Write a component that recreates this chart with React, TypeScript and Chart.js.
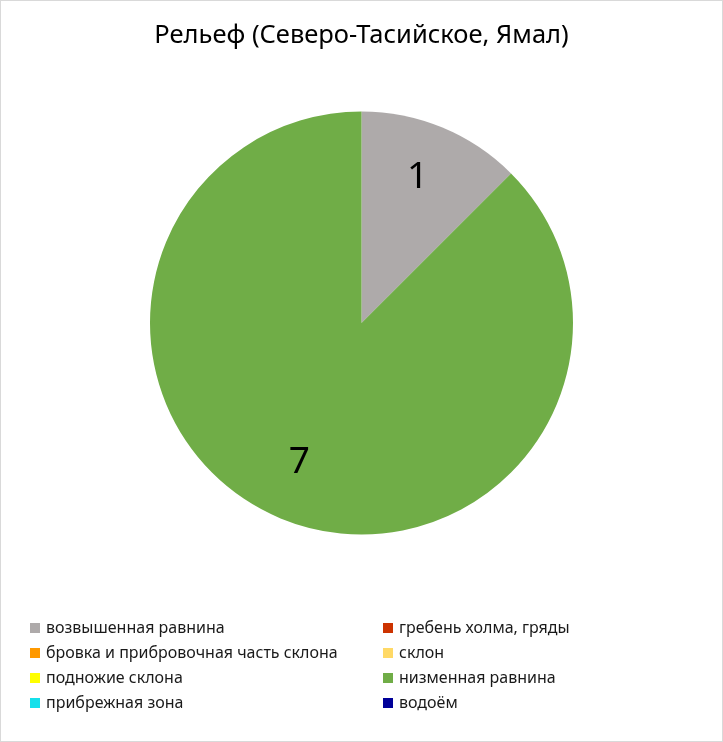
import React, { useEffect, useRef } from "react";
import { Chart, registerables } from "chart.js";

Chart.register(...registerables);

const TITLE = "Рельеф (Северо-Тасийское, Ямал)";
const categories = [
  "возвышенная равнина",
  "гребень холма, гряды",
  "бровка и прибровочная часть склона",
  "склон",
  "подножие склона",
  "низменная равнина",
  "прибрежная зона",
  "водоём",
];
const values = [1, 0, 0, 0, 0, 7, 0, 0];
const colors = [
  "#AEAAAA",
  "#CC3300",
  "#FF9900",
  "#FFD966",
  "#FFFF00",
  "#70AD47",
  "#15E0EB",
  "#000099",
];

const FONT = "'Noto Sans', 'Open Sans', sans-serif";

const labelPlugin = {
  id: "sliceLabels",
  afterDatasetsDraw(chart: any) {
    const ctx = chart.ctx;
    const meta = chart.getDatasetMeta(0);
    ctx.save();
    ctx.fillStyle = "#000";
    ctx.font = `37px ${FONT}`;
    ctx.textAlign = "center";
    ctx.textBaseline = "middle";
    meta.data.forEach((arc: any, i: number) => {
      const v = values[i];
      if (!v) return;
      const p = arc.getProps(["x", "y", "startAngle", "endAngle", "outerRadius"], true);
      const mid = (p.startAngle + p.endAngle) / 2;
      const r = p.outerRadius * 0.73;
      ctx.fillText(String(v), p.x + Math.cos(mid) * r - 3, p.y + Math.sin(mid) * r - 3);
    });
    ctx.restore();
  },
};

const legendPlugin = {
  id: "gridLegend",
  afterDraw(chart: any) {
    const ctx = chart.ctx;
    ctx.save();
    ctx.font = `16px ${FONT}`;
    ctx.textBaseline = "middle";
    ctx.textAlign = "left";
    categories.forEach((c, i) => {
      const col = i % 2;
      const row = Math.floor(i / 2);
      const x = col === 0 ? 30 : 383;
      const y = 628 + row * 25;
      ctx.fillStyle = colors[i];
      ctx.fillRect(x, y - 5, 10, 10);
      ctx.fillStyle = "#1a1a1a";
      ctx.fillText(c, x + 16, y);
    });
    ctx.restore();
  },
};

export default function App() {
  const ref = useRef<HTMLCanvasElement | null>(null);
  useEffect(() => {
    if (!ref.current) return;
    const chart = new Chart(ref.current, {
      type: "pie",
      data: {
        labels: categories,
        datasets: [
          {
            data: values,
            backgroundColor: colors,
            borderWidth: 0,
          },
        ],
      },
      options: {
        responsive: false,
        animation: false,
        layout: { padding: { top: 0, bottom: 207.5, left: 150, right: 150 } },
        plugins: {
          legend: { display: false },
          tooltip: { enabled: false },
          title: {
            display: true,
            text: TITLE,
            color: "#000",
            font: { family: FONT, size: 25.5, weight: "normal" as any, lineHeight: 1.2 },
            padding: { top: 20.7, bottom: 60.2 },
          },
        },
      },
      plugins: [labelPlugin, legendPlugin],
    });
    return () => chart.destroy();
  }, []);
  return (
    <div
      style={{
        position: "absolute",
        left: 0,
        top: 0,
        width: 723,
        height: 742,
        background: "#fff",
      }}
    >
      <canvas ref={ref} width={723} height={742} style={{ display: "block" }} />
      <div
        style={{
          position: "absolute",
          inset: 0,
          border: "1px solid #D9D9D9",
          pointerEvents: "none",
        }}
      />
    </div>
  );
}
